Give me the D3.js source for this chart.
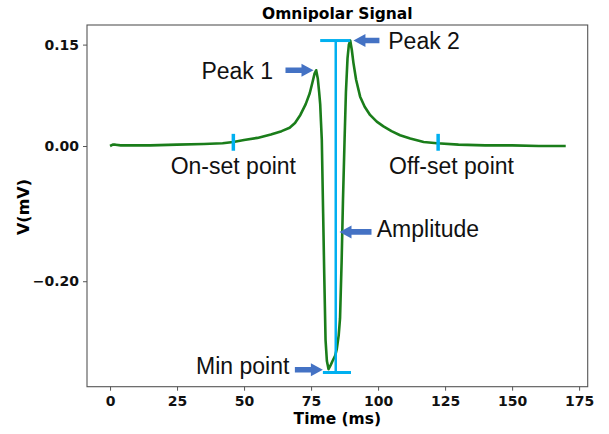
<!DOCTYPE html>
<html>
<head>
<meta charset="utf-8">
<script src="https://cdn.jsdelivr.net/npm/d3@7"></script>
<style>
  body { margin: 0; background: #fff; }
  .tick text { font-family: "DejaVu Sans", sans-serif; font-weight: bold; font-size: 14px; fill: #111; }
  .note { font-family: "Liberation Sans", Arial, sans-serif; font-size: 23px; fill: #111; }
</style>
</head>
<body>
<div id="chart"></div>
<script>
// signal samples (ms, mV)
var times = [0, 1, 2, 4, 8, 15, 25, 35, 42, 46, 50, 55, 60, 64, 67, 69, 71, 73, 74.5, 75.5, 76.3, 76.9,
  77.5, 78.0, 78.4, 78.7, 79.0, 79.5, 79.9, 80.4, 80.9, 81.5, 82.2, 83.0, 84.0, 84.6, 85.3, 85.8, 86.4,
  86.9, 87.5, 88.0, 88.6, 89.1, 89.6, 90.2, 90.8, 91.8, 93.3, 95, 97, 99.5, 102, 105, 108.2, 112, 117,
  122, 130, 140, 150, 160, 170];
var volts = [0.000, 0.002, 0.002, 0.001, 0.001, 0.001, 0.002, 0.003, 0.004, 0.006, 0.009, 0.012, 0.017,
  0.022, 0.027, 0.034, 0.046, 0.062, 0.078, 0.094, 0.107, 0.112,
  0.100, 0.080, 0.062, 0.035, 0.009, -0.100, -0.188, -0.287, -0.318, -0.330, -0.325, -0.318, -0.310,
  -0.300, -0.280, -0.255, -0.170,
  -0.080, 0.010, 0.080, 0.130, 0.150, 0.156, 0.142, 0.123, 0.098, 0.073, 0.058, 0.046, 0.036, 0.029,
  0.022, 0.016, 0.011, 0.006,
  0.004, 0.002, 0.001, 0.001, 0.000, 0.000];

var xTicks = [0, 25, 50, 75, 100, 125, 150, 175];
var yTicks = [0.15, 0.00, -0.20];
var yTickLabels = ["0.15", "0.00", "\u22120.20"];

// annotation markers
var onsetT = 46, offsetT = 122.4;
var ampT = 84.2, ampTop = 0.156, ampBottom = -0.335;
var ampTopBar = [78.4, 89.6], ampBottomBar = [79.4, 89.9];

var arrows = [
  {name: "Peak 1", t: 75.9, v: 0.112, dir: 1, len: 28},
  {name: "Peak 2", t: 90.8, v: 0.156, dir: -1, len: 26},
  {name: "Amplitude", t: 85.6, v: -0.127, dir: -1, len: 32},
  {name: "Min point", t: 79.4, v: -0.331, dir: 1, len: 28}
];
var labels = [
  {text: "Peak 1", t: 60.8, v: 0.099, anchor: "end"},
  {text: "Peak 2", t: 103.8, v: 0.143, anchor: "start"},
  {text: "Amplitude", t: 99.5, v: -0.135, anchor: "start"},
  {text: "Min point", t: 66.9, v: -0.337, anchor: "end"},
  {text: "On-set point", t: 46, v: -0.0414, anchor: "middle"},
  {text: "Off-set point", t: 104.1, v: -0.0414, anchor: "start"}
];

var W = 609, H = 434;
var margin = {top: 25, right: 21.3, bottom: 47.3, left: 87};

var svg = d3.select("#chart").append("svg")
  .attr("width", W).attr("height", H);

svg.append("rect").attr("width", W).attr("height", H).attr("fill", "#fff");

var x = d3.scaleLinear().domain([-8.6, 178.2]).range([margin.left, W - margin.right]);
var y = d3.scaleLinear().domain([-0.356, 0.179]).range([H - margin.bottom, margin.top]);

// axes
var xAxis = svg.append("g")
  .attr("transform", "translate(0," + (H - margin.bottom) + ")")
  .call(d3.axisBottom(x).tickValues(xTicks).tickSize(4).tickPadding(5).tickFormat(d3.format("d")));
var yAxis = svg.append("g")
  .attr("transform", "translate(" + margin.left + ",0)")
  .call(d3.axisLeft(y).tickValues(yTicks).tickSize(4).tickPadding(4)
    .tickFormat(function(d, i) { return yTickLabels[i]; }));
[xAxis, yAxis].forEach(function(a) {
  a.select(".domain").remove();
  a.selectAll(".tick line").attr("stroke", "#555");
});

// frame
svg.append("rect")
  .attr("x", margin.left).attr("y", margin.top)
  .attr("width", W - margin.left - margin.right)
  .attr("height", H - margin.top - margin.bottom)
  .attr("fill", "none").attr("stroke", "#555").attr("stroke-width", 1.1);

// signal
var pts = times.map(function(t, i) { return [t, volts[i]]; });
svg.append("path")
  .datum(pts)
  .attr("fill", "none")
  .attr("stroke", "#1a7d1a")
  .attr("stroke-width", 2.6)
  .attr("stroke-linejoin", "round")
  .attr("d", d3.line().x(function(d) { return x(d[0]); }).y(function(d) { return y(d[1]); }));

// cyan markers
var cyan = "#00b0f0";
[onsetT, offsetT].forEach(function(t) {
  svg.append("line")
    .attr("x1", x(t)).attr("x2", x(t))
    .attr("y1", y(0.018)).attr("y2", y(-0.007))
    .attr("stroke", cyan).attr("stroke-width", 3.5);
});
svg.append("line")
  .attr("x1", x(ampT)).attr("x2", x(ampT))
  .attr("y1", y(ampTop)).attr("y2", y(ampBottom))
  .attr("stroke", cyan).attr("stroke-width", 2.5);
svg.append("line")
  .attr("x1", x(ampTopBar[0])).attr("x2", x(ampTopBar[1]))
  .attr("y1", y(ampTop)).attr("y2", y(ampTop))
  .attr("stroke", cyan).attr("stroke-width", 3);
svg.append("line")
  .attr("x1", x(ampBottomBar[0])).attr("x2", x(ampBottomBar[1]))
  .attr("y1", y(ampBottom)).attr("y2", y(ampBottom))
  .attr("stroke", cyan).attr("stroke-width", 3);

// block arrows
svg.selectAll("path.arrow")
  .data(arrows)
  .enter()
  .append("path")
    .attr("class", "arrow")
    .attr("fill", "#4472c4")
    .attr("transform", function(d) {
      return "translate(" + x(d.t) + "," + y(d.v) + ") scale(" + d.dir + ",1)";
    })
    .attr("d", function(d) {
      var sh = 2.8, hh = 6.5, hl = 12;
      return "M" + (-d.len) + "," + (-sh) + "L" + (-hl) + "," + (-sh) + "L" + (-hl) + "," + (-hh) +
        "L0,0L" + (-hl) + "," + hh + "L" + (-hl) + "," + sh + "L" + (-d.len) + "," + sh + "Z";
    });

svg.selectAll("text.note")
  .data(labels)
  .enter()
  .append("text")
    .attr("class", "note")
    .attr("x", function(d) { return x(d.t); })
    .attr("y", function(d) { return y(d.v); })
    .attr("text-anchor", function(d) { return d.anchor; })
    .text(function(d) { return d.text; });

// titles
svg.append("text")
  .attr("x", (margin.left + W - margin.right) / 2).attr("y", 19)
  .attr("text-anchor", "middle")
  .style("font-family", "DejaVu Sans, sans-serif").style("font-weight", "bold").style("font-size", "15.5px")
  .text("Omnipolar Signal");
svg.append("text")
  .attr("x", (margin.left + W - margin.right) / 2).attr("y", 424)
  .attr("text-anchor", "middle")
  .style("font-family", "DejaVu Sans, sans-serif").style("font-weight", "bold").style("font-size", "15.5px")
  .text("Time (ms)");
svg.append("text")
  .attr("transform", "translate(29,207) rotate(-90)")
  .attr("text-anchor", "middle")
  .style("font-family", "DejaVu Sans, sans-serif").style("font-weight", "bold").style("font-size", "16px")
  .text("V(mV)");
</script>
</body>
</html>
